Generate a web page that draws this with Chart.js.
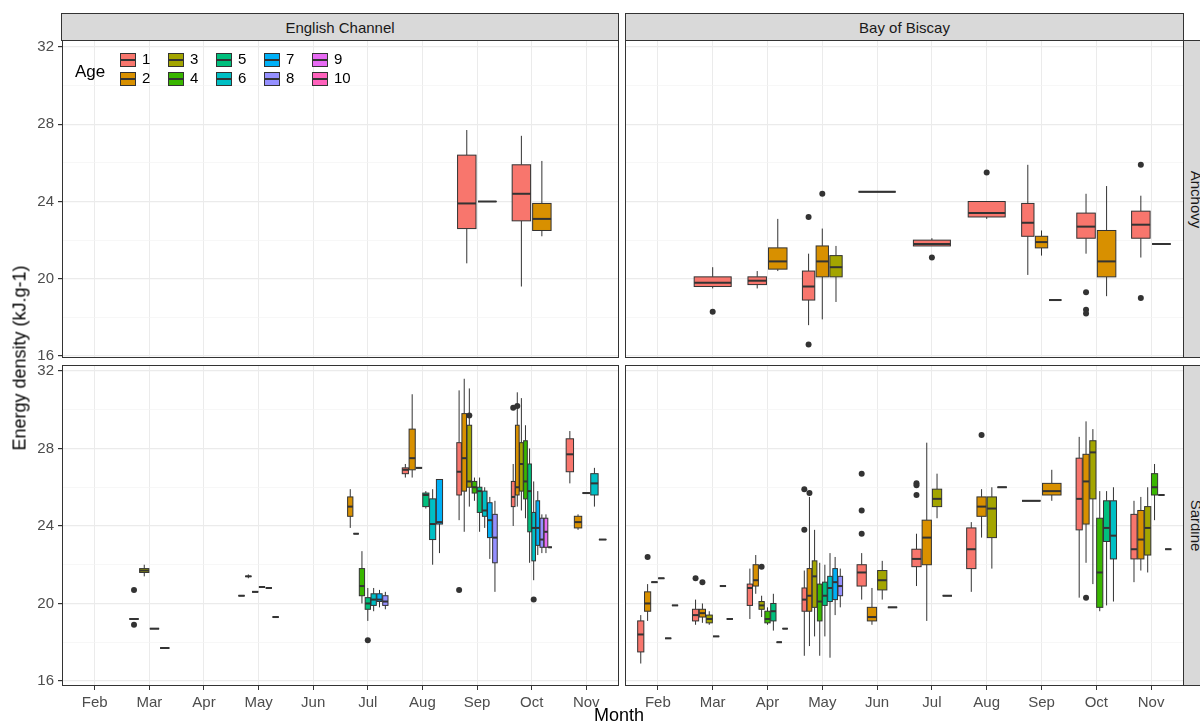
<!DOCTYPE html>
<html>
<head>
<meta charset="utf-8">
<script src="https://cdn.jsdelivr.net/npm/chart.js@4.4.0/dist/chart.umd.min.js"></script>
<style>
  body { margin: 0; background: #fff; font-family: "Liberation Sans", Arial, sans-serif; }
  #wrap { position: relative; width: 1200px; height: 725px; overflow: hidden; }
  canvas { position: absolute; }
  .strip { position: absolute; background: #d9d9d9; border: 1px solid #333; box-sizing: border-box;
           font-size: 15px; color: #1a1a1a; display: flex; align-items: center; justify-content: center; z-index: 2; }
  .vstrip span { transform: rotate(90deg); white-space: nowrap; }
  .lab { position: absolute; font-size: 18px; color: #000; white-space: nowrap; }
</style>
</head>
<body>
<div id="wrap">
  <canvas id="c0"></canvas><canvas id="c1"></canvas><canvas id="c2"></canvas><canvas id="c3"></canvas>
  <div class="strip" style="left:61px;top:13px;width:558px;height:28px">English Channel</div>
  <div class="strip" style="left:625px;top:13px;width:559px;height:28px">Bay of Biscay</div>
  <div class="strip vstrip" style="left:1183px;top:40px;width:28px;height:318px"><span>Anchovy</span></div>
  <div class="strip vstrip" style="left:1183px;top:365px;width:28px;height:321px"><span>Sardine</span></div>
  <div class="lab" style="left:594px;top:705px">Month</div>
  <div class="lab" style="left:-70px;top:350px;transform:rotate(-90deg);width:180px;text-align:center">Energy density (kJ.g-1)</div>
</div>
<script>
var months = ["Feb", "Mar", "Apr", "May", "Jun", "Jul", "Aug", "Sep", "Oct", "Nov"];
var ages = ["1", "2", "3", "4", "5", "6", "7", "8", "9", "10"];
var ageColors = ["#F8766D", "#D89000", "#A3A500", "#39B600", "#00BF7D", "#00BFC4", "#00B0F6", "#9590FF", "#E76BF3", "#FF62BC"];
var yTicks = [16, 20, 24, 28, 32];

// rows: [month, age, min, q1, median, q3, max, outliers]
var anchovyChannel = [
  ["Sep", 1, 20.8, 22.6, 23.9, 26.4, 27.7, []],
  ["Sep", 2, 24.0, 24.0, 24.0, 24.0, 24.0, []],
  ["Oct", 1, 19.6, 23.0, 24.4, 25.9, 27.4, []],
  ["Oct", 2, 22.2, 22.5, 23.1, 23.9, 26.1, []]
];
var anchovyBiscay = [
  ["Mar", 1, 19.5, 19.6, 19.8, 20.1, 20.6, [18.3]],
  ["Apr", 1, 19.5, 19.7, 19.9, 20.1, 20.4, []],
  ["Apr", 2, 20.4, 20.5, 20.9, 21.6, 23.1, []],
  ["May", 1, 17.6, 18.9, 19.6, 20.4, 21.3, [23.2, 16.6]],
  ["May", 2, 17.9, 20.1, 20.9, 21.7, 22.6, [24.4]],
  ["May", 3, 18.8, 20.1, 20.6, 21.2, 21.7, []],
  ["Jun", 1, 24.5, 24.5, 24.5, 24.5, 24.5, []],
  ["Jul", 1, 21.7, 21.7, 21.8, 22.0, 22.1, [21.1]],
  ["Aug", 1, 23.1, 23.2, 23.4, 24.0, 24.0, [25.5]],
  ["Sep", 1, 20.2, 22.2, 22.9, 23.9, 25.9, []],
  ["Sep", 2, 21.2, 21.6, 21.9, 22.2, 22.5, []],
  ["Sep", 3, 18.9, 18.9, 18.9, 18.9, 18.9, []],
  ["Oct", 1, 21.3, 22.1, 22.7, 23.4, 24.4, [19.3, 18.4, 18.2]],
  ["Oct", 2, 19.1, 20.1, 20.9, 22.5, 24.8, []],
  ["Nov", 1, 21.1, 22.1, 22.8, 23.5, 24.3, [25.9, 19.0]],
  ["Nov", 2, 21.8, 21.8, 21.8, 21.8, 21.8, []]
];
var sardineChannel = [
  ["Mar", 2, 19.2, 19.2, 19.2, 19.2, 19.2, [20.7, 18.9]],
  ["Mar", 3, 21.4, 21.6, 21.7, 21.8, 22.0, []],
  ["Mar", 4, 18.7, 18.7, 18.7, 18.7, 18.7, []],
  ["Mar", 5, 17.7, 17.7, 17.7, 17.7, 17.7, []],
  ["May", 2, 20.4, 20.4, 20.4, 20.4, 20.4, []],
  ["May", 3, 21.3, 21.4, 21.4, 21.4, 21.5, []],
  ["May", 4, 20.6, 20.6, 20.6, 20.6, 20.6, []],
  ["May", 5, 20.85, 20.85, 20.85, 20.85, 20.85, []],
  ["May", 6, 20.8, 20.8, 20.8, 20.8, 20.8, []],
  ["May", 7, 19.3, 19.3, 19.3, 19.3, 19.3, []],
  ["Jul", 2, 23.9, 24.5, 25.0, 25.5, 25.9, []],
  ["Jul", 3, 23.6, 23.6, 23.6, 23.6, 23.6, []],
  ["Jul", 4, 20.0, 20.4, 20.9, 21.8, 22.7, []],
  ["Jul", 5, 19.1, 19.7, 20.0, 20.3, 20.8, [18.1]],
  ["Jul", 6, 19.6, 19.9, 20.2, 20.5, 20.8, []],
  ["Jul", 7, 19.8, 20.1, 20.2, 20.5, 20.7, []],
  ["Jul", 8, 19.7, 19.9, 20.1, 20.4, 20.6, []],
  ["Aug", 1, 26.5, 26.7, 26.9, 27.0, 27.2, []],
  ["Aug", 2, 26.5, 26.9, 27.5, 29.0, 30.8, []],
  ["Aug", 3, 27.0, 27.0, 27.0, 27.0, 27.0, []],
  ["Aug", 5, 24.9, 25.0, 25.6, 25.7, 25.8, []],
  ["Aug", 6, 22.0, 23.3, 24.1, 25.4, 25.9, []],
  ["Aug", 7, 22.6, 24.1, 24.2, 26.4, 26.4, []],
  ["Sep", 1, 24.3, 25.6, 26.8, 28.3, 31.0, [20.7]],
  ["Sep", 2, 23.7, 25.8, 27.5, 29.8, 31.6, []],
  ["Sep", 3, 25.0, 26.0, 26.3, 29.2, 31.1, [29.7]],
  ["Sep", 4, 25.3, 25.7, 26.0, 26.3, 26.5, []],
  ["Sep", 5, 23.7, 24.7, 25.8, 26.0, 26.5, []],
  ["Sep", 6, 23.9, 24.5, 24.8, 25.8, 26.0, []],
  ["Sep", 7, 22.3, 23.4, 24.3, 25.2, 25.5, []],
  ["Sep", 8, 20.6, 22.1, 23.4, 24.6, 25.3, []],
  ["Oct", 1, 24.0, 25.0, 25.5, 26.3, 27.2, [30.1]],
  ["Oct", 2, 25.0, 25.6, 26.0, 29.2, 30.9, [30.2]],
  ["Oct", 3, 24.8, 25.8, 27.2, 28.3, 30.6, []],
  ["Oct", 4, 24.4, 25.4, 26.3, 28.4, 29.2, []],
  ["Oct", 5, 22.1, 23.7, 25.8, 27.2, 28.0, []],
  ["Oct", 6, 21.2, 22.2, 23.9, 24.7, 26.3, [20.2]],
  ["Oct", 7, 22.5, 23.0, 23.9, 25.3, 25.8, []],
  ["Oct", 8, 22.6, 22.9, 23.3, 24.4, 24.6, []],
  ["Oct", 9, 22.6, 22.9, 23.7, 24.4, 24.6, []],
  ["Oct", 10, 22.9, 22.9, 22.9, 22.9, 22.9, []],
  ["Nov", 1, 26.2, 26.8, 27.7, 28.5, 28.9, []],
  ["Nov", 2, 23.8, 23.9, 24.2, 24.5, 24.6, []],
  ["Nov", 5, 25.7, 25.7, 25.7, 25.7, 25.7, []],
  ["Nov", 6, 25.0, 25.6, 26.2, 26.7, 27.0, []],
  ["Nov", 7, 23.3, 23.3, 23.3, 23.3, 23.3, []]
];
var sardineBiscay = [
  ["Feb", 1, 16.9, 17.5, 18.4, 19.1, 19.4, []],
  ["Feb", 2, 19.1, 19.6, 20.0, 20.6, 21.0, [22.4]],
  ["Feb", 3, 21.1, 21.1, 21.1, 21.1, 21.1, []],
  ["Feb", 4, 21.3, 21.3, 21.3, 21.3, 21.3, []],
  ["Feb", 5, 18.2, 18.2, 18.2, 18.2, 18.2, []],
  ["Feb", 6, 19.9, 19.9, 19.9, 19.9, 19.9, []],
  ["Mar", 1, 18.9, 19.1, 19.4, 19.7, 20.2, [21.3]],
  ["Mar", 2, 19.0, 19.3, 19.5, 19.7, 20.0, [21.1]],
  ["Mar", 3, 18.9, 19.0, 19.2, 19.4, 19.6, []],
  ["Mar", 4, 18.3, 18.3, 18.3, 18.3, 18.3, []],
  ["Mar", 5, 20.9, 20.9, 20.9, 20.9, 20.9, []],
  ["Mar", 6, 19.2, 19.2, 19.2, 19.2, 19.2, []],
  ["Apr", 1, 19.2, 19.9, 20.8, 21.0, 21.8, []],
  ["Apr", 2, 20.5, 20.9, 21.2, 22.0, 22.5, []],
  ["Apr", 3, 19.3, 19.7, 19.9, 20.1, 20.4, [21.9]],
  ["Apr", 4, 18.9, 19.0, 19.2, 19.6, 19.8, []],
  ["Apr", 5, 18.6, 19.1, 19.6, 20.0, 20.5, []],
  ["Apr", 6, 18.0, 18.0, 18.0, 18.0, 18.0, []],
  ["Apr", 7, 18.7, 18.7, 18.7, 18.7, 18.7, []],
  ["May", 1, 17.3, 19.6, 20.2, 20.8, 21.7, [23.8, 25.9]],
  ["May", 2, 17.8, 19.6, 20.4, 21.8, 25.5, [25.7]],
  ["May", 3, 18.3, 19.8, 21.4, 22.2, 23.8, []],
  ["May", 4, 17.3, 19.1, 20.1, 21.0, 22.1, []],
  ["May", 5, 18.3, 19.9, 20.4, 21.1, 22.0, []],
  ["May", 6, 17.2, 20.1, 20.8, 21.4, 22.6, []],
  ["May", 7, 19.4, 20.2, 21.1, 21.8, 22.4, []],
  ["May", 8, 19.8, 20.4, 20.9, 21.4, 21.8, []],
  ["Jun", 1, 20.2, 20.9, 21.6, 22.0, 22.6, [26.7, 24.8, 23.6]],
  ["Jun", 2, 18.9, 19.1, 19.3, 19.8, 20.8, []],
  ["Jun", 3, 20.2, 20.7, 21.2, 21.7, 22.2, []],
  ["Jun", 4, 19.8, 19.8, 19.8, 19.8, 19.8, []],
  ["Jul", 1, 20.9, 21.9, 22.3, 22.8, 23.6, [26.2, 26.1, 25.6]],
  ["Jul", 2, 19.1, 22.0, 23.4, 24.3, 28.3, []],
  ["Jul", 3, 24.4, 25.0, 25.4, 25.9, 26.7, []],
  ["Jul", 4, 20.4, 20.4, 20.4, 20.4, 20.4, []],
  ["Aug", 1, 20.6, 21.8, 22.8, 23.9, 24.2, []],
  ["Aug", 2, 23.4, 24.5, 25.0, 25.5, 25.9, [28.7]],
  ["Aug", 3, 21.8, 23.4, 24.9, 25.5, 26.0, []],
  ["Aug", 4, 26.0, 26.0, 26.0, 26.0, 26.0, []],
  ["Sep", 1, 25.3, 25.3, 25.3, 25.3, 25.3, []],
  ["Sep", 2, 25.3, 25.6, 25.8, 26.2, 26.9, []],
  ["Oct", 1, 20.3, 23.8, 25.4, 27.5, 28.6, []],
  ["Oct", 2, 22.1, 24.1, 26.3, 27.7, 29.4, [20.3]],
  ["Oct", 3, 21.0, 25.4, 27.8, 28.4, 29.0, []],
  ["Oct", 4, 19.6, 19.8, 21.6, 24.4, 25.8, []],
  ["Oct", 5, 19.9, 23.2, 23.9, 25.3, 25.8, []],
  ["Oct", 6, 20.1, 22.3, 23.5, 25.3, 26.0, []],
  ["Nov", 1, 21.1, 22.3, 22.8, 24.6, 25.3, []],
  ["Nov", 2, 21.7, 22.3, 23.3, 24.8, 25.5, []],
  ["Nov", 3, 21.6, 22.5, 23.9, 25.0, 26.0, []],
  ["Nov", 4, 24.3, 25.6, 26.0, 26.7, 27.2, []],
  ["Nov", 5, 25.6, 25.6, 25.6, 25.6, 25.6, []],
  ["Nov", 6, 22.8, 22.8, 22.8, 22.8, 22.8, []]
];

// dodge boxes within each month like ggplot
function layout(rows) {
  var counts = {}, seen = {};
  rows.forEach(function (r) { counts[r[0]] = (counts[r[0]] || 0) + 1; });
  return rows.map(function (r) {
    var n = counts[r[0]], i = seen[r[0]] || 0;
    seen[r[0]] = i + 1;
    var w = 0.75 / n;
    return { x: months.indexOf(r[0]) + 1 - 0.375 + w * (i + 0.5), w: w * 0.9, age: r[1],
             min: r[2], q1: r[3], med: r[4], q3: r[5], max: r[6], out: r[7] };
  });
}

var boxPlugin = {
  id: 'boxes',
  beforeDatasetsDraw: function (chart) {
    var ctx = chart.ctx, xs = chart.scales.x, ys = chart.scales.y;
    ctx.save();
    chart.options.plugins.boxes.items.forEach(function (b) {
      var cx = xs.getPixelForValue(b.x);
      var hw = (xs.getPixelForValue(b.x + b.w / 2) - xs.getPixelForValue(b.x - b.w / 2)) / 2;
      var yMin = ys.getPixelForValue(b.min), yMax = ys.getPixelForValue(b.max);
      var yq1 = ys.getPixelForValue(b.q1), yq3 = ys.getPixelForValue(b.q3), ym = ys.getPixelForValue(b.med);
      ctx.strokeStyle = '#333'; ctx.lineWidth = 1;
      ctx.beginPath(); ctx.moveTo(cx, yMin); ctx.lineTo(cx, yq1); ctx.moveTo(cx, yq3); ctx.lineTo(cx, yMax); ctx.stroke();
      ctx.fillStyle = ageColors[b.age - 1];
      ctx.fillRect(cx - hw, yq3, hw * 2, yq1 - yq3);
      ctx.strokeRect(cx - hw, yq3, hw * 2, yq1 - yq3);
      ctx.lineWidth = 2;
      ctx.beginPath(); ctx.moveTo(cx - hw, ym); ctx.lineTo(cx + hw, ym); ctx.stroke();
    });
    ctx.restore();
  },
  afterDraw: function (chart) {
    var a = chart.chartArea, ctx = chart.ctx;
    ctx.save();
    ctx.strokeStyle = '#333'; ctx.lineWidth = 1;
    ctx.strokeRect(a.left + 0.5, a.top + 0.5, a.right - a.left - 1, a.bottom - a.top - 1);
    if (chart.options.plugins.boxes.legend) {
      ctx.font = '17px "Liberation Sans", Arial, sans-serif';
      ctx.fillStyle = '#000'; ctx.textBaseline = 'middle';
      ctx.fillText('Age', a.left + 13, a.top + 32);
      for (var i = 0; i < ages.length; i++) {
        var col = Math.floor(i / 2), row = i % 2;
        var kx = a.left + 58 + col * 48, ky = a.top + 20 + row * 19;
        ctx.fillStyle = ageColors[i];
        ctx.fillRect(kx, ky - 7, 16, 14);
        ctx.lineWidth = 1; ctx.strokeStyle = '#333';
        ctx.strokeRect(kx + 0.5, ky - 7 + 0.5, 15, 13);
        ctx.lineWidth = 2;
        ctx.beginPath(); ctx.moveTo(kx, ky); ctx.lineTo(kx + 16, ky); ctx.stroke();
        ctx.fillStyle = '#000'; ctx.font = '15px "Liberation Sans", Arial, sans-serif';
        ctx.fillText(ages[i], kx + 22, ky);
      }
    }
    ctx.restore();
  }
};

function buildConfig(rows, opts) {
  var items = layout(rows);
  var outliers = [];
  items.forEach(function (b) { b.out.forEach(function (v) { outliers.push({ x: b.x, y: v }); }); });
  return {
    type: 'scatter',
    data: { datasets: [{ data: outliers, pointRadius: 3, pointBackgroundColor: '#333', pointBorderWidth: 0 }] },
    options: {
      responsive: false, animation: false, devicePixelRatio: 1,
      layout: { padding: 0, autoPadding: false },
      plugins: { legend: { display: false }, tooltip: { enabled: false },
                 boxes: { items: items, legend: opts.legend } },
      scales: {
        x: {
          type: 'linear', min: 0.4, max: 10.6,
          afterBuildTicks: function (s) { s.ticks = months.map(function (m, i) { return { value: i + 1 }; }); },
          afterFit: function (s) { s.height = opts.xAxis ? 40 : 0; },
          ticks: { display: opts.xAxis, color: '#4d4d4d', font: { size: 15, family: 'Liberation Sans' }, padding: 4,
                   callback: function (v) { return months[v - 1]; } },
          grid: { color: '#ebebeb', drawTicks: opts.xAxis, tickLength: 4, tickColor: '#333' },
          border: { display: false }
        },
        y: {
          min: opts.ymin, max: opts.ymax,
          afterBuildTicks: function (s) { s.ticks = [16, 18, 20, 22, 24, 26, 28, 30, 32].map(function (v) { return { value: v }; }); },
          afterFit: function (s) { s.width = opts.yAxis ? 62 : 0; },
          ticks: { display: opts.yAxis, color: '#4d4d4d', font: { size: 15, family: 'Liberation Sans' }, padding: 4,
                   callback: function (v) { return yTicks.indexOf(v) >= 0 ? v : ''; } },
          grid: {
            color: function (c) { return c.tick && yTicks.indexOf(c.tick.value) >= 0 ? '#ebebeb' : '#f4f4f4'; },
            lineWidth: function (c) { return c.tick && yTicks.indexOf(c.tick.value) >= 0 ? 1.2 : 0.7; },
            drawTicks: opts.yAxis, tickLength: 4,
            tickColor: function (c) { return c.tick && yTicks.indexOf(c.tick.value) >= 0 ? '#333' : 'rgba(0,0,0,0)'; }
          },
          border: { display: false }
        }
      }
    },
    plugins: [boxPlugin]
  };
}

// area = target plot rectangle [left, top, right, bottom] on the page
function makeChart(id, rows, area, opts) {
  var cv = document.getElementById(id);
  var left = opts.yAxis ? 0 : area[0];
  var w = area[2] - left, h = area[3] - area[1] + (opts.xAxis ? 40 : 0);
  function place(l, t, ww, hh) {
    cv.style.left = l + 'px'; cv.style.top = t + 'px';
    cv.width = ww; cv.height = hh; cv.style.width = ww + 'px'; cv.style.height = hh + 'px';
  }
  place(left, area[1], w, h);
  var chart = new Chart(cv, buildConfig(rows, opts));
  // compensate any padding Chart.js leaves around the plot area
  var a = chart.chartArea;
  var padT = a.top, padR = w - a.right, padB = h - a.bottom - (opts.xAxis ? 40 : 0);
  var padL = opts.yAxis ? a.left - 62 : a.left;
  chart.destroy();
  place(left - padL, area[1] - padT, w + padL + padR, h + padT + padB);
  return new Chart(cv, buildConfig(rows, opts));
}

var topY = { ymin: 15.9, ymax: 32.36 }, botY = { ymin: 15.74, ymax: 32.31 };
makeChart('c0', anchovyChannel, [62, 40, 619, 358], { yAxis: true, xAxis: false, legend: true, ymin: topY.ymin, ymax: topY.ymax });
makeChart('c1', anchovyBiscay, [625, 40, 1184, 358], { yAxis: false, xAxis: false, legend: false, ymin: topY.ymin, ymax: topY.ymax });
makeChart('c2', sardineChannel, [62, 365, 619, 686], { yAxis: true, xAxis: true, legend: false, ymin: botY.ymin, ymax: botY.ymax });
makeChart('c3', sardineBiscay, [625, 365, 1184, 686], { yAxis: false, xAxis: true, legend: false, ymin: botY.ymin, ymax: botY.ymax });
</script>
</body>
</html>
